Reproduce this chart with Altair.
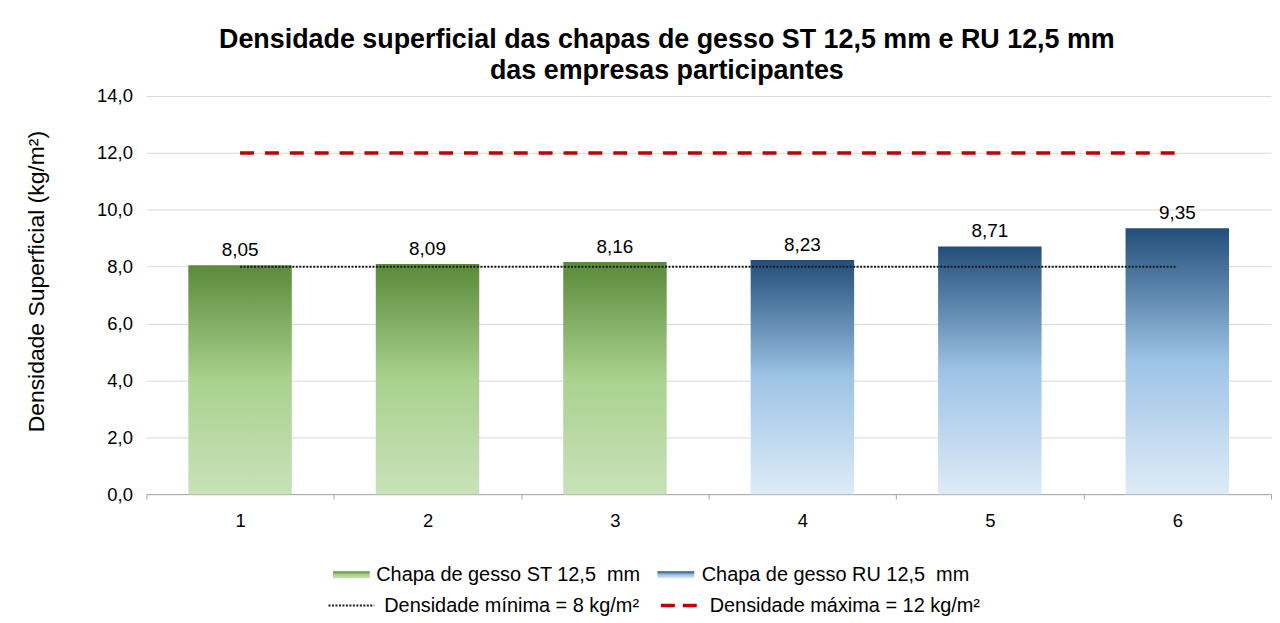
import altair as alt
import pandas as pd

# ---------------- data ----------------
empresas = ["1", "2", "3", "4", "5", "6"]
densidade = [8.05, 8.09, 8.16, 8.23, 8.71, 9.35]
tipo_chapa = ["ST", "ST", "ST", "RU", "RU", "RU"]
densidade_minima = 8
densidade_maxima = 12
y_ticks = [0, 2, 4, 6, 8, 10, 12, 14]

legenda_itens = ["st", "ru", "min", "max"]
legenda_textos = [
    "Chapa de gesso ST 12,5\u00a0 mm",
    "Chapa de gesso RU 12,5\u00a0 mm",
    "Densidade mínima = 8 kg/m²",
    "Densidade máxima = 12 kg/m²",
]
legenda_coluna = [0, 1, 0, 1]
legenda_linha = [0, 0, 1, 1]

titulo = [
    "Densidade superficial das chapas de gesso ST 12,5 mm e RU 12,5 mm",
    "das empresas participantes",
]
titulo_eixo_y = "Densidade Superficial (kg/m²)"

# ---------------- tables ----------------
barras_df = pd.DataFrame({"empresa": empresas, "densidade": densidade, "tipo": tipo_chapa})
limites_df = pd.DataFrame({
    "empresa": empresas * 2,
    "valor": [densidade_minima] * len(empresas) + [densidade_maxima] * len(empresas),
    "limite": ["min"] * len(empresas) + ["max"] * len(empresas),
})
legenda_df = pd.DataFrame({
    "item": legenda_itens,
    "texto": legenda_textos,
    "coluna": legenda_coluna,
    "linha": legenda_linha,
})

FONT = "Liberation Sans"

grad_green = alt.Gradient(
    gradient="linear", x1=0, x2=0, y1=0, y2=1,
    stops=[alt.GradientStop(color="#5a8a3a", offset=0),
           alt.GradientStop(color="#a9d18e", offset=0.5),
           alt.GradientStop(color="#c8e2b9", offset=1)],
)
grad_blue = alt.Gradient(
    gradient="linear", x1=0, x2=0, y1=0, y2=1,
    stops=[alt.GradientStop(color="#224e79", offset=0),
           alt.GradientStop(color="#9dc3e6", offset=0.5),
           alt.GradientStop(color="#deebf7", offset=1)],
)

x_enc = alt.X(
    "empresa:N", sort=empresas,
    scale=alt.Scale(paddingInner=0, paddingOuter=0),
    axis=alt.Axis(title=None, labelAngle=0, tickBand="extent", domainColor="#a6a6a6",
                  tickColor="#a6a6a6", tickSize=5, labelFont=FONT, labelFontSize=18.5,
                  labelColor="#000000", labelPadding=13, grid=False),
)
y_scale = alt.Scale(domain=[0, 14])
y_axis = alt.Axis(
    values=y_ticks, labelExpr="replace(format(datum.value, '.1f'), '.', ',')",
    title=titulo_eixo_y, titleFont=FONT, titleFontSize=23, titleFontWeight="normal",
    titleColor="#000000", titlePadding=48, titleY=186, labelFont=FONT, labelFontSize=18.5,
    labelColor="#000000", labelPadding=14, ticks=False, domain=False, grid=True,
    gridColor="#d9d9d9", gridWidth=1,
)

BAR_W = alt.RelativeBandSize(0.552)
base = alt.Chart(barras_df)
barras_st = base.transform_filter("datum.tipo == 'ST'").mark_bar(fill=grad_green, width=BAR_W).encode(
    x=x_enc, y=alt.Y("densidade:Q", scale=y_scale, axis=y_axis))
barras_ru = base.transform_filter("datum.tipo == 'RU'").mark_bar(fill=grad_blue, width=BAR_W).encode(
    x=x_enc, y=alt.Y("densidade:Q", scale=y_scale, axis=y_axis))

linhas = alt.Chart(limites_df)
linha_min = linhas.transform_filter("datum.limite == 'min'").mark_line(
    color="#1a1a1a", strokeWidth=2, strokeDash=[2, 1.5]).encode(
    x=x_enc, y=alt.Y("valor:Q", scale=y_scale, axis=y_axis))
linha_max = linhas.transform_filter("datum.limite == 'max'").mark_line(
    color="#c00000", strokeWidth=3.5, strokeDash=[14, 11]).encode(
    x=x_enc, y=alt.Y("valor:Q", scale=y_scale, axis=y_axis))

rotulos = base.transform_calculate(
    rotulo="replace(format(datum.densidade, '.2f'), '.', ',')"
).mark_text(dy=-9, baseline="alphabetic", fontSize=19, font=FONT, color="#000000").encode(
    x=x_enc, y=alt.Y("densidade:Q", scale=y_scale, axis=y_axis), text="rotulo:N")

principal = alt.layer(barras_st, barras_ru, linha_min, linha_max, rotulos)

# ---------------- legend ----------------
lx = alt.X("coluna:Q", scale=alt.Scale(domain=[0, 1], range=[186, 513]), axis=None)
ly = alt.Y("linha:Q", scale=alt.Scale(domain=[0, 1], range=[481, 512]), axis=None)
leg = alt.Chart(legenda_df)
RECT = "M-1,-0.19H1V0.19H-1Z"
LINE = "M-1,0H1"
sym_st = leg.transform_filter("datum.item == 'st'").mark_point(
    shape=RECT, size=37 * 37, filled=True, fill=grad_green, opacity=1, strokeWidth=0,
    xOffset=20).encode(x=lx, y=ly)
sym_ru = leg.transform_filter("datum.item == 'ru'").mark_point(
    shape=RECT, size=37 * 37, filled=True, fill=grad_blue, opacity=1, strokeWidth=0,
    xOffset=19).encode(x=lx, y=ly)
sym_min = leg.transform_filter("datum.item == 'min'").mark_point(
    shape=LINE, size=46 * 46, filled=False, stroke="#1a1a1a", strokeWidth=2,
    strokeDash=[2, 1.5], opacity=1, xOffset=20).encode(x=lx, y=ly)
sym_max = leg.transform_filter("datum.item == 'max'").mark_point(
    shape=LINE, size=36 * 36, filled=False, stroke="#c00000", strokeWidth=3.5,
    strokeDash=[14, 8], opacity=1, xOffset=22).encode(x=lx, y=ly)
txt_r0 = leg.transform_filter("datum.linha == 0").mark_text(
    align="left", baseline="middle", fontSize=20, font=FONT, color="#000000", dx=45
).encode(x=lx, y=ly, text="texto:N")
txt_r1 = leg.transform_filter("datum.linha == 1").mark_text(
    align="left", baseline="middle", fontSize=20, font=FONT, color="#000000", dx=53
).encode(x=lx, y=ly, text="texto:N")
legenda = alt.layer(sym_st, sym_ru, sym_min, sym_max, txt_r0, txt_r1)

chart = alt.layer(principal, legenda).resolve_scale(
    x="independent", y="independent"
).properties(
    width=1130,
    height=400,
    padding={"left": 17, "top": 17, "right": 0, "bottom": 0},
    title=alt.TitleParams(titulo, font=FONT, fontSize=27, fontWeight="bold", color="#000000",
                          anchor="middle", lineHeight=31, offset=2, dx=-42),
    background="#ffffff",
).configure_view(stroke=None)

chart.save("out.html", embed_options={"renderer": "svg", "actions": False})
